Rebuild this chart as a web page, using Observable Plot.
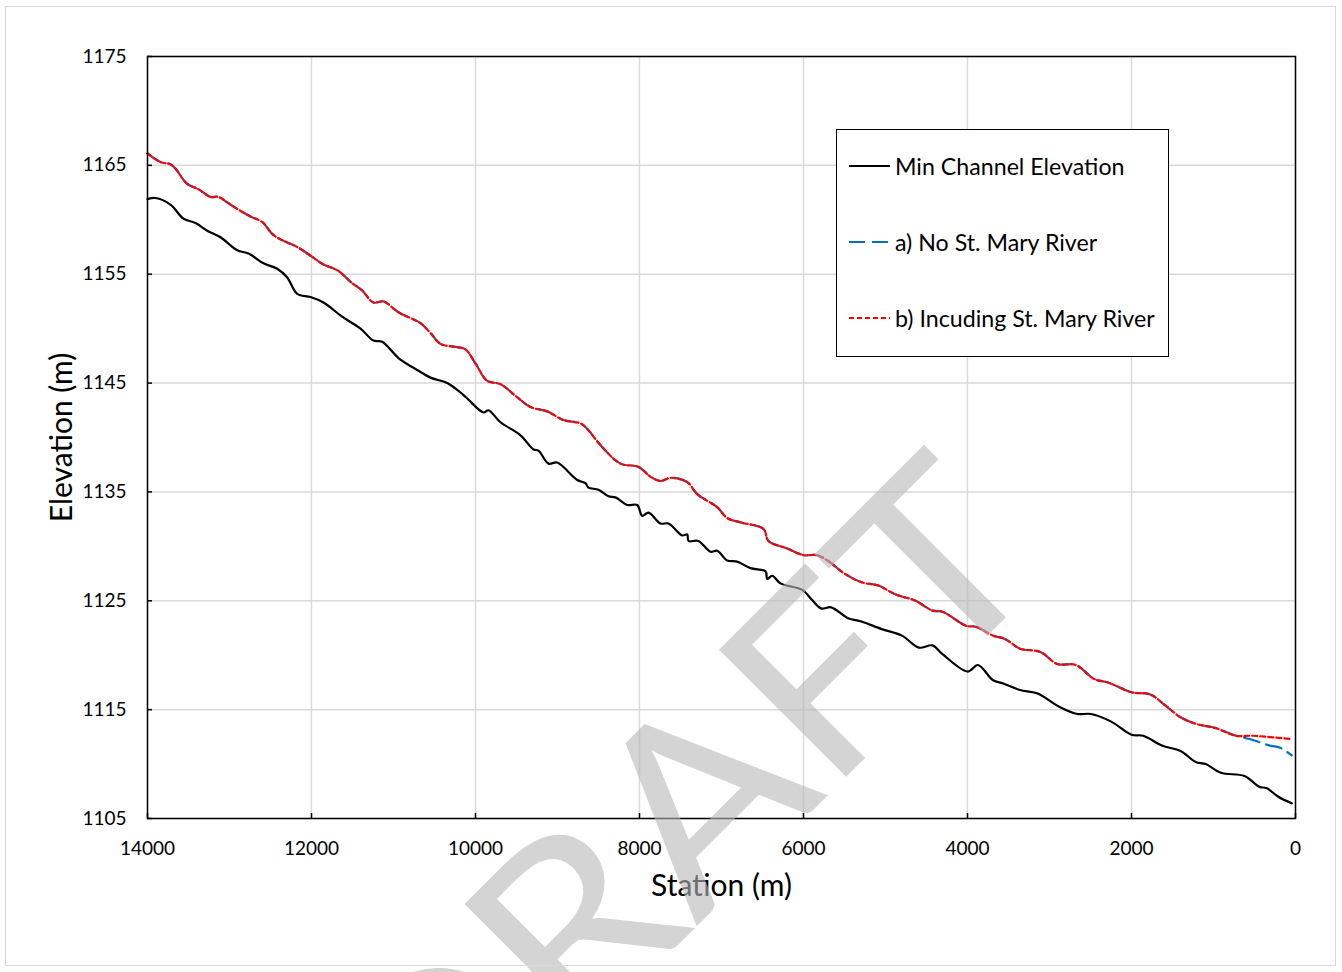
<!DOCTYPE html>
<html>
<head>
<meta charset="utf-8">
<script src="https://cdn.jsdelivr.net/npm/d3@7"></script>
<script src="https://cdn.jsdelivr.net/npm/@observablehq/plot@0.6"></script>
<style>
  html, body { margin: 0; padding: 0; background: white; }
  #wrap { position: relative; width: 1342px; height: 972px; font-family: Lato, "Open Sans", sans-serif; }
  #outer { position: absolute; left: 5px; top: 6px; width: 1331px; height: 960px; border: 1px solid #d9d9d9; box-sizing: border-box; pointer-events: none; }
  #legend { position: absolute; left: 836px; top: 129px; width: 333px; height: 228px; border: 1.5px solid #000; box-sizing: border-box; background: white; }
  .row { position: absolute; left: 12px; height: 30px; display: flex; align-items: center; font-size: 23.2px; color: #000; white-space: nowrap; }
  .row svg { display: block; margin-right: 5px; }
</style>
</head>
<body>
<div id="wrap">
  <div id="chart"></div>
  <div id="outer"></div>
  <div id="legend"></div>
</div>
<script>
// ---------------- data ----------------
const minStation = [14000,13902,13720,13561,13415,13272,13110,12906,12768,12585,12418,12296,12174,12012,11854,11626,11402,11244,11138,10939,10711,10549,10345,10146,9902,9842,9695,9451,9293,9232,9110,9004,8760,8659,8622,8500,8378,8293,8150,8028,7967,7890,7744,7646,7479,7418,7402,7281,7134,7053,6931,6809,6646,6463,6443,6382,6281,6013,5910,5787,5663,5457,5293,5046,4799,4593,4428,4305,3996,3873,3688,3565,3359,3152,2865,2659,2494,2248,2000,1856,1629,1402,1218,1095,910,622,437,354,210,45];
const minElev = [1161.9,1162.0,1161.4,1160.1,1159.7,1159.0,1158.4,1157.2,1156.9,1156.0,1155.5,1154.7,1153.2,1152.9,1152.4,1151.1,1150.0,1148.9,1148.8,1147.3,1146.2,1145.5,1145.0,1143.9,1142.3,1142.5,1141.4,1140.2,1138.9,1138.8,1137.6,1137.7,1136.1,1135.8,1135.4,1135.2,1134.6,1134.5,1133.8,1133.8,1132.8,1133.1,1132.1,1132.1,1131.0,1131.1,1130.5,1130.5,1129.5,1129.6,1128.7,1128.6,1128.0,1127.7,1127.0,1127.3,1126.6,1126.0,1125.2,1124.3,1124.4,1123.4,1123.1,1122.4,1121.8,1120.7,1120.9,1120.1,1118.5,1119.1,1117.7,1117.4,1116.8,1116.5,1115.2,1114.6,1114.6,1113.9,1112.7,1112.6,1111.7,1111.2,1110.2,1110.0,1109.2,1108.9,1107.9,1107.8,1107.0,1106.4];

const withStMaryStation = [14000,13842,13720,13659,13516,13378,13232,13134,13028,12906,12744,12601,12479,12378,12174,12012,11854,11671,11524,11382,11244,11122,10939,10671,10549,10427,10223,10122,10000,9857,9695,9492,9329,9126,8927,8720,8638,8476,8232,8012,7866,7744,7622,7418,7296,7053,6931,6768,6488,6427,6199,6000,5842,5707,5500,5293,5087,4882,4634,4428,4305,4017,3894,3688,3544,3359,3111,2906,2679,2452,2288,2000,1773,1589,1402,1218,971,724,518,66];
const withStMaryElev = [1166.1,1165.3,1165.1,1164.7,1163.3,1162.8,1162.1,1162.1,1161.6,1161.0,1160.3,1159.8,1158.7,1158.2,1157.5,1156.7,1155.9,1155.3,1154.3,1153.5,1152.4,1152.5,1151.5,1150.5,1149.6,1148.6,1148.3,1148.1,1146.8,1145.2,1144.9,1143.7,1142.8,1142.4,1141.6,1141.3,1140.8,1139.3,1137.6,1137.3,1136.4,1136.0,1136.3,1135.9,1134.8,1133.6,1132.6,1132.2,1131.6,1130.5,1129.8,1129.2,1129.2,1128.7,1127.5,1126.7,1126.4,1125.6,1125.0,1124.1,1124.0,1122.7,1122.6,1121.8,1121.5,1120.6,1120.3,1119.2,1119.1,1117.8,1117.5,1116.6,1116.4,1115.4,1114.3,1113.7,1113.3,1112.6,1112.6,1112.3];

const noStMaryStation = [14000,13842,13720,13659,13516,13378,13232,13134,13028,12906,12744,12601,12479,12378,12174,12012,11854,11671,11524,11382,11244,11122,10939,10671,10549,10427,10223,10122,10000,9857,9695,9492,9329,9126,8927,8720,8638,8476,8232,8012,7866,7744,7622,7418,7296,7053,6931,6768,6488,6427,6199,6000,5842,5707,5500,5293,5087,4882,4634,4428,4305,4017,3894,3688,3544,3359,3111,2906,2679,2452,2288,2000,1773,1589,1402,1218,971,724,560,312,189,45];
const noStMaryElev = [1166.1,1165.3,1165.1,1164.7,1163.3,1162.8,1162.1,1162.1,1161.6,1161.0,1160.3,1159.8,1158.7,1158.2,1157.5,1156.7,1155.9,1155.3,1154.3,1153.5,1152.4,1152.5,1151.5,1150.5,1149.6,1148.6,1148.3,1148.1,1146.8,1145.2,1144.9,1143.7,1142.8,1142.4,1141.6,1141.3,1140.8,1139.3,1137.6,1137.3,1136.4,1136.0,1136.3,1135.9,1134.8,1133.6,1132.6,1132.2,1131.6,1130.5,1129.8,1129.2,1129.2,1128.7,1127.5,1126.7,1126.4,1125.6,1125.0,1124.1,1124.0,1122.7,1122.6,1121.8,1121.5,1120.6,1120.3,1119.2,1119.1,1117.8,1117.5,1116.6,1116.4,1115.4,1114.3,1113.7,1113.3,1112.6,1112.3,1111.7,1111.5,1110.8];

const xTicks = [14000, 12000, 10000, 8000, 6000, 4000, 2000, 0];
const yTicks = [1105, 1115, 1125, 1135, 1145, 1155, 1165, 1175];

const seriesNames = ["Min Channel Elevation", "a) No St. Mary River", "b) Incuding St. Mary River"];
const xLabel = "Station (m)";
const yLabel = "Elevation (m)";
const watermark = "DRAFT";

// ---------------- build tables ----------------
const zip = (s, e) => s.map((d, i) => ({station: d, elev: e[i]}));
const minData = zip(minStation, minElev);
const noData = zip(noStMaryStation, noStMaryElev);
const withData = zip(withStMaryStation, withStMaryElev);

const COLORS = ["#000000", "#0070c0", "#ff0000"];
const DASH = [null, "16,7", "5,3"];

const chart = Plot.plot({
  width: 1342,
  height: 972,
  marginLeft: 147,
  marginRight: 47,
  marginTop: 56,
  marginBottom: 154,
  style: {fontFamily: "Lato, 'Open Sans', sans-serif", fontSize: "19px", color: "#000", background: "white"},
  x: {domain: [14000, 0]},
  y: {domain: [1105, 1175]},
  marks: [
    Plot.gridX(xTicks, {stroke: "#d9d9d9", strokeOpacity: 1, strokeWidth: 1.5}),
    Plot.gridY(yTicks, {stroke: "#d9d9d9", strokeOpacity: 1, strokeWidth: 1.5}),
    Plot.ruleX(xTicks, {x: d => d, y1: 1105, y2: 1105.46, stroke: "#000", strokeWidth: 1.5}),
    Plot.ruleY(yTicks, {y: d => d, x1: 14000, x2: 13939, stroke: "#000", strokeWidth: 1.5}),
    Plot.axisX(xTicks, {tickSize: 0, tickPadding: 23, label: null, tickFormat: d3.format("d"), fontSize: 19}),
    Plot.axisY(yTicks, {tickSize: 0, tickPadding: 21, label: null, tickFormat: d3.format("d"), fontSize: 19}),
    Plot.line(minData, {x: "station", y: "elev", stroke: COLORS[0], strokeWidth: 2.2, curve: "catmull-rom"}),
    Plot.line(noData, {x: "station", y: "elev", stroke: COLORS[1], strokeWidth: 2.2, strokeDasharray: DASH[1], curve: "catmull-rom"}),
    Plot.line(withData, {x: "station", y: "elev", stroke: COLORS[2], strokeWidth: 2.2, strokeDasharray: DASH[2], curve: "catmull-rom"}),
    Plot.frame({stroke: "#000", strokeWidth: 1.5}),
    Plot.text([xLabel], {frameAnchor: "bottom", dy: 77, fontSize: 30, fill: "#000"}),
    Plot.text([yLabel], {frameAnchor: "left", textAnchor: "middle", dx: -85, rotate: -90, fontSize: 30, fill: "#000"})
  ]
});
document.getElementById("chart").appendChild(chart);

// semi-transparent watermark on top of the chart
const svgNS = "http://www.w3.org/2000/svg";
const wm = document.createElementNS(svgNS, "text");
wm.setAttribute("transform", "translate(1054,569) rotate(-45) scale(1.1,1)");
wm.setAttribute("text-anchor", "end");
wm.setAttribute("font-family", "Lato, 'Open Sans', sans-serif");
wm.setAttribute("font-size", "251");
wm.setAttribute("fill", "#b7b7b7");
wm.setAttribute("fill-opacity", "0.6");
wm.textContent = watermark;
chart.appendChild(wm);

// legend
const legend = document.getElementById("legend");
const rowsTop = [21, 97, 173];
seriesNames.forEach((name, i) => {
  const row = document.createElement("div");
  row.className = "row";
  row.style.top = rowsTop[i] + "px";
  const dash = DASH[i] ? ` stroke-dasharray="${DASH[i]}"` : "";
  row.innerHTML = `<svg width="41" height="10"><line x1="0" y1="5" x2="41" y2="5" stroke="${COLORS[i]}" stroke-width="2.2"${dash}/></svg><span>${name}</span>`;
  legend.appendChild(row);
});
</script>
</body>
</html>
